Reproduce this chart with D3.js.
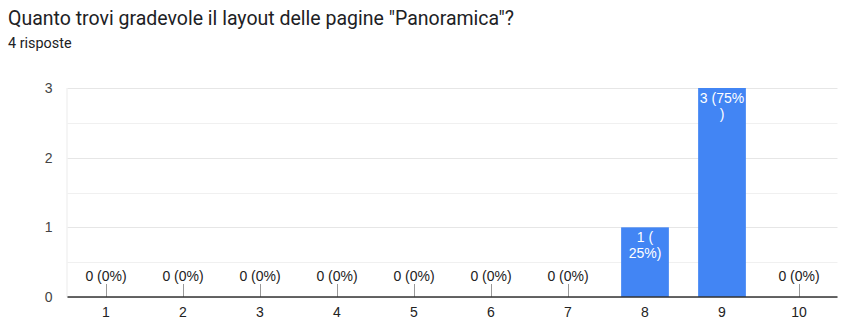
<!DOCTYPE html>
<html>
<head>
<meta charset="utf-8">
<script src="https://cdn.jsdelivr.net/npm/d3@7/dist/d3.min.js"></script>
<style>
  html, body { margin: 0; padding: 0; background: #fff; }
  svg { display: block; }
</style>
</head>
<body>
<svg id="chart" width="842" height="320"></svg>
<script>
// Survey answers: rating 1-10, number of responses per rating
const categories = ["1", "2", "3", "4", "5", "6", "7", "8", "9", "10"];
const counts = [0, 0, 0, 0, 0, 0, 0, 1, 3, 0];
const yTicks = [0, 1, 2, 3];
// character index where a label inside a bar wraps onto a second line
const labelBreaks = [null, null, null, null, null, null, null, 3, 6, null];

const title = 'Quanto trovi gradevole il layout delle pagine "Panoramica"?';
const total = d3.sum(counts);
const subtitle = total + " risposte";

const svg = d3.select("#chart");
const chartFont = "Arial, 'Liberation Sans', sans-serif";
const headFont = "Roboto, Arial, sans-serif";

svg.append("text")
  .attr("x", 8).attr("y", 25)
  .attr("font-family", headFont)
  .attr("font-size", 19.5)
  .attr("fill", "#202124")
  .text(title);

svg.append("text")
  .attr("x", 8).attr("y", 48)
  .attr("font-family", headFont)
  .attr("font-size", 14.4)
  .attr("fill", "#202124")
  .text(subtitle);

const plot = { left: 67.5, right: 837.5, top: 88, bottom: 297 };

const x = d3.scaleBand()
  .domain(categories)
  .range([plot.left, plot.right])
  .paddingInner(0.38)
  .paddingOuter(0.19);

const y = d3.scaleLinear()
  .domain([0, 3])
  .range([plot.bottom, plot.top]);

// gridlines every half unit
const gridVals = d3.range(0, 3.01, 0.5);
svg.append("g").selectAll("line")
  .data(gridVals)
  .join("line")
  .attr("x1", plot.left).attr("x2", plot.right)
  .attr("y1", d => Math.round(y(d)) + 0.5).attr("y2", d => Math.round(y(d)) + 0.5)
  .attr("stroke", d => Number.isInteger(d) ? "#e6e6e6" : "#f0f0f0")
  .attr("stroke-width", 1);

svg.append("line")
  .attr("x1", plot.left - 0.5).attr("x2", plot.left - 0.5)
  .attr("y1", plot.top).attr("y2", plot.bottom)
  .attr("stroke", "#ebebeb");

// y axis labels
const yAxis = d3.axisLeft(y).tickValues(yTicks).tickSize(0).tickPadding(15).tickFormat(d3.format("d"));
const yg = svg.append("g").attr("transform", `translate(${plot.left},0)`).call(yAxis);
yg.select(".domain").remove();
yg.selectAll("text")
  .attr("font-family", chartFont).attr("font-size", 14).attr("fill", "#444");

const data = categories.map((c, i) => ({ c, v: counts[i], brk: labelBreaks[i] }));

// bars
svg.append("g").selectAll("rect")
  .data(data.filter(d => d.v > 0))
  .join("rect")
  .attr("x", d => x(d.c))
  .attr("width", x.bandwidth())
  .attr("y", d => y(d.v))
  .attr("height", d => y(0) - y(d.v))
  .attr("fill", "#4285f4");

// stems for empty categories
svg.append("g").selectAll("line")
  .data(data.filter(d => d.v === 0))
  .join("line")
  .attr("x1", d => Math.round(x(d.c) + x.bandwidth() / 2) + 0.5)
  .attr("x2", d => Math.round(x(d.c) + x.bandwidth() / 2) + 0.5)
  .attr("y1", y(0) - 13).attr("y2", y(0))
  .attr("stroke", "#999").attr("stroke-width", 1);

// baseline
svg.append("line")
  .attr("x1", plot.left).attr("x2", plot.right)
  .attr("y1", y(0)).attr("y2", y(0))
  .attr("stroke", "#333").attr("stroke-width", 1.5);

// value labels
const labelText = d => `${d.v} (${Math.round(d.v / total * 100)}%)`;
const labels = svg.append("g")
  .attr("font-family", chartFont).attr("font-size", 14)
  .attr("text-anchor", "middle");

labels.selectAll("text.zero")
  .data(data.filter(d => d.v === 0))
  .join("text")
  .attr("class", "zero")
  .attr("x", d => x(d.c) + x.bandwidth() / 2)
  .attr("y", y(0) - 16)
  .attr("fill", "#222")
  .text(labelText);

labels.selectAll("text.inside")
  .data(data.filter(d => d.v > 0))
  .join("text")
  .attr("class", "inside")
  .attr("fill", "#fff")
  .each(function (d) {
    const s = labelText(d);
    const lines = d.brk ? [s.slice(0, d.brk), s.slice(d.brk)] : [s];
    const t = d3.select(this);
    lines.forEach((ln, k) => {
      t.append("tspan")
        .attr("x", x(d.c) + x.bandwidth() / 2)
        .attr("y", y(d.v) + 15 + k * 16)
        .text(ln);
    });
  });

// x axis labels
const xAxis = d3.axisBottom(x).tickSize(0).tickPadding(10);
const xg = svg.append("g").attr("transform", `translate(0,${plot.bottom})`).call(xAxis);
xg.select(".domain").remove();
xg.selectAll("text")
  .attr("font-family", chartFont).attr("font-size", 14).attr("fill", "#222");
</script>
</body>
</html>
